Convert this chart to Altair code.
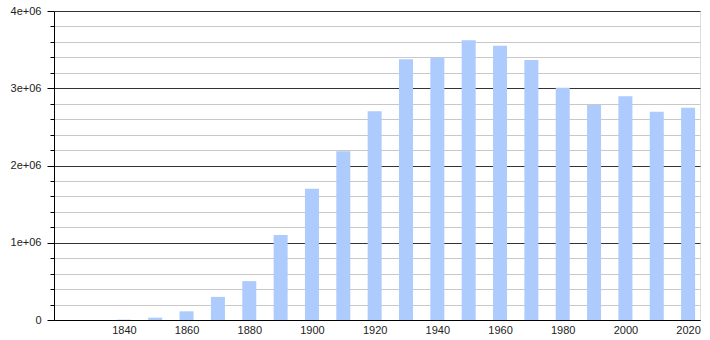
import altair as alt
import pandas as pd

years = [1840, 1850, 1860, 1870, 1880, 1890, 1900, 1910, 1920, 1930,
         1940, 1950, 1960, 1970, 1980, 1990, 2000, 2010, 2020]
population = [4470, 29963, 112172, 298977, 503185, 1099850, 1698575, 2185283,
              2701705, 3376438, 3396808, 3620962, 3550404, 3366957, 3005072,
              2783726, 2896016, 2695598, 2746388]
x_ticks = [1840, 1860, 1880, 1900, 1920, 1940, 1960, 1980, 2000, 2020]
y_ticks = [i * 200000 for i in range(21)]

df = pd.DataFrame({"year": years, "pop": population})

font = "Liberation Sans"

chart = alt.Chart(df).mark_bar(size=14, color="#adcbfc").encode(
    x=alt.X("year:Q",
            scale=alt.Scale(domain=[1819.3, 2022.2], nice=False, zero=False),
            axis=alt.Axis(values=x_ticks, format="d", title=None, ticks=False,
                          grid=False, labelPadding=4, labelFontSize=11,
                          labelColor="#222", labelFont=font,
                          domainColor="#000", labelFlush=False)),
    y=alt.Y("pop:Q",
            scale=alt.Scale(domain=[0, 4000000], nice=False),
            axis=alt.Axis(values=y_ticks, title=None,
                          labelExpr="datum.value % 1000000 === 0 ? (datum.value === 0 ? '0' : (datum.value / 1000000) + 'e+06') : ''",
                          grid=True,
                          gridColor={"condition": {"test": "datum.value % 1000000 === 0", "value": "#333333"}, "value": "#c8c8c8"},
                          tickSize={"condition": {"test": "datum.value % 1000000 === 0", "value": 7}, "value": 4},
                          tickColor="#000", domainColor="#000",
                          labelPadding=6, labelFontSize=11, labelColor="#222",
                          labelFont=font, labelBaseline="middle")),
).properties(
    width=646, height=309,
    autosize=alt.AutoSizeParams(type="none"),
    padding={"left": 54, "top": 11, "right": 10, "bottom": 20},
).configure_view(strokeWidth=0).configure(background="white")

chart.save("out.html", embed_options={"renderer": "svg", "actions": False})
